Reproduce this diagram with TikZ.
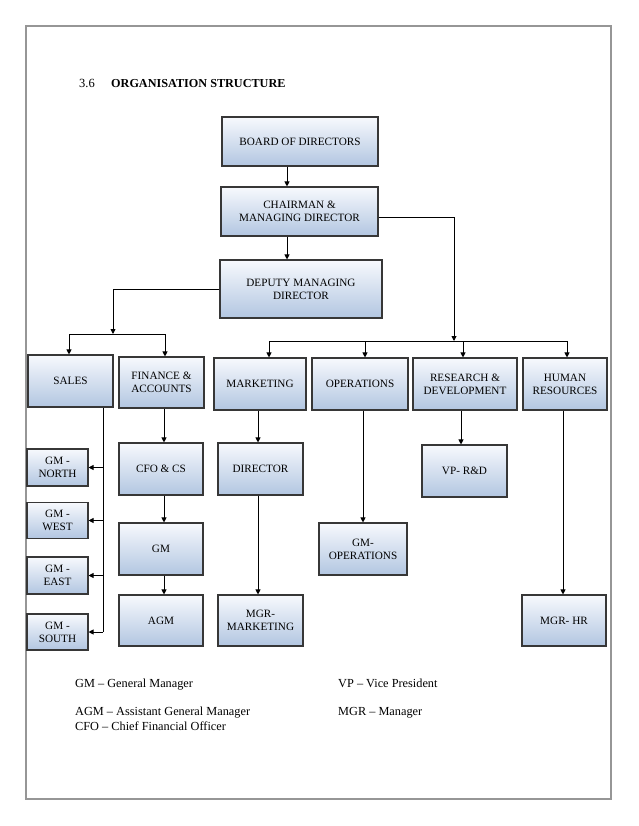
\documentclass[tikz,border=0pt]{standalone}
\usepackage{fontspec}
\setmainfont{Liberation Serif}
\usetikzlibrary{arrows.meta}
\definecolor{boxtop}{RGB}{247,249,253}
\definecolor{boxbot}{RGB}{178,198,225}
\definecolor{boxline}{RGB}{55,55,55}
\definecolor{pageline}{RGB}{150,150,150}
\begin{document}
\begin{tikzpicture}[x=1pt,y=-1pt,
  box/.style={draw=boxline,line width=1.1pt,top color=boxtop,bottom color=boxbot,
    align=center,inner sep=1pt,font=\fontsize{11.2}{13}\selectfont},
  arr/.style={line width=0.9pt,-{Triangle[length=5pt,width=5pt]}},
  ln/.style={line width=0.9pt},
  legend/.style={anchor=base west,inner sep=0pt,font=\fontsize{12.3}{14}\selectfont}]
\useasboundingbox (0,0) rectangle (638,826);
\draw[pageline,line width=2pt] (26,26) rectangle (611,799);
% title
\node[anchor=base west,inner sep=0pt,font=\fontsize{12.5}{14}\selectfont] (num) at (79,87.5) {3.6};
\node[anchor=base west,inner sep=0pt,font=\fontsize{12.2}{14}\selectfont\bfseries] (title) at (111,87.5) {ORGANISATION STRUCTURE};
% top levels
\node[box,minimum width=156pt,minimum height=49pt] (board) at (300,141.5) {BOARD OF DIRECTORS};
\node[box,minimum width=157pt,minimum height=49pt] (chair) at (299.5,211.5) {CHAIRMAN \&\\MANAGING DIRECTOR};
\node[box,minimum width=162pt,minimum height=58pt] (deputy) at (301,289) {DEPUTY MANAGING\\DIRECTOR};
% departments
\node[box,minimum width=85pt,minimum height=52pt] (sales) at (70.5,381) {SALES};
\node[box,minimum width=85pt,minimum height=51pt] (fin) at (161.5,382.5) {FINANCE \&\\ACCOUNTS};
\node[box,minimum width=92pt,minimum height=52pt] (mkt) at (260,384) {MARKETING};
\node[box,minimum width=96pt,minimum height=52pt] (ops) at (360,384) {OPERATIONS};
\node[box,minimum width=104pt,minimum height=52pt] (rnd) at (465,384) {RESEARCH \&\\DEVELOPMENT};
\node[box,minimum width=84pt,minimum height=52pt] (hr) at (565,384) {HUMAN\\RESOURCES};
% sales regions
\node[box,minimum width=61pt,minimum height=37pt] (gmn) at (57.5,467.5) {GM -\\NORTH};
\node[box,minimum width=61pt,minimum height=36pt] (gmw) at (57.5,520.5) {GM -\\WEST};
\node[box,minimum width=61pt,minimum height=37pt] (gme) at (57.5,575.5) {GM -\\EAST};
\node[box,minimum width=61pt,minimum height=36pt] (gms) at (57.5,632) {GM -\\SOUTH};
% finance column
\node[box,minimum width=84pt,minimum height=52pt] (cfo) at (161,469) {CFO \& CS};
\node[box,minimum width=84pt,minimum height=52pt] (gm) at (161,549) {GM};
\node[box,minimum width=84pt,minimum height=51pt] (agm) at (161,620.5) {AGM};
% marketing column
\node[box,minimum width=85pt,minimum height=52pt] (dir) at (260.5,469) {DIRECTOR};
\node[box,minimum width=85pt,minimum height=51pt] (mgrm) at (260.5,620.5) {MGR-\\MARKETING};
% others
\node[box,minimum width=88pt,minimum height=52pt] (gmops) at (363,549) {GM-\\OPERATIONS};
\node[box,minimum width=85pt,minimum height=52pt] (vprd) at (464.5,471) {VP- R\&D};
\node[box,minimum width=84pt,minimum height=51pt] (mgrhr) at (564,620.5) {MGR- HR};
% coordinates
\coordinate (xa) at (287,0);
\coordinate (lbar) at (113,334);
\coordinate (lb1) at (69,334);
\coordinate (lb2) at (165,334);
\coordinate (cb) at (454,341);
\coordinate (rb1) at (269,341);
\coordinate (rb2) at (365,341);
\coordinate (rb3) at (463,341);
\coordinate (rb4) at (567,341);
\coordinate (sv) at (103,0);
\coordinate (xf) at (164,0);
\coordinate (xm) at (258,0);
\coordinate (xo) at (363,0);
\coordinate (xr) at (461,0);
\coordinate (xh) at (563,0);
% connectors
\draw[arr] (board.south -| xa) -- (chair.north -| xa);
\draw[arr] (chair.south -| xa) -- (deputy.north -| xa);
\draw[arr] (deputy.west) -| (lbar);
\draw[ln] (lb1) -- (lb2);
\draw[arr] (lb1) -- (lb1 |- sales.north);
\draw[arr] (lb2) -- (lb2 |- fin.north);
\draw[arr] ([yshift=-5.5pt]chair.east) -| (cb);
\draw[ln] (rb1) -- (rb4);
\draw[arr] (rb1) -- (rb1 |- mkt.north);
\draw[arr] (rb2) -- (rb2 |- ops.north);
\draw[arr] (rb3) -- (rb3 |- rnd.north);
\draw[arr] (rb4) -- (rb4 |- hr.north);
\draw[ln] (sales.south -| sv) -- (sv |- gms.east);
\draw[arr] (sv |- gmn.east) -- (gmn.east);
\draw[arr] (sv |- gmw.east) -- (gmw.east);
\draw[arr] (sv |- gme.east) -- (gme.east);
\draw[arr] (sv |- gms.east) -- (gms.east);
\draw[arr] (fin.south -| xf) -- (cfo.north -| xf);
\draw[arr] (cfo.south -| xf) -- (gm.north -| xf);
\draw[arr] (gm.south -| xf) -- (agm.north -| xf);
\draw[arr] (mkt.south -| xm) -- (dir.north -| xm);
\draw[arr] (dir.south -| xm) -- (mgrm.north -| xm);
\draw[arr] (ops.south -| xo) -- (gmops.north -| xo);
\draw[arr] (rnd.south -| xr) -- (vprd.north -| xr);
\draw[arr] (hr.south -| xh) -- (mgrhr.north -| xh);
% legend
\node[legend] (l1) at (75,687.5) {GM – General Manager};
\node[legend] (l2) at (75,715.5) {AGM – Assistant General Manager};
\node[legend] (l3) at (75,730) {CFO – Chief Financial Officer};
\node[legend] (l4) at (338,687.5) {VP – Vice President};
\node[legend] (l5) at (338,715.5) {MGR – Manager};
\end{tikzpicture}
\end{document}
